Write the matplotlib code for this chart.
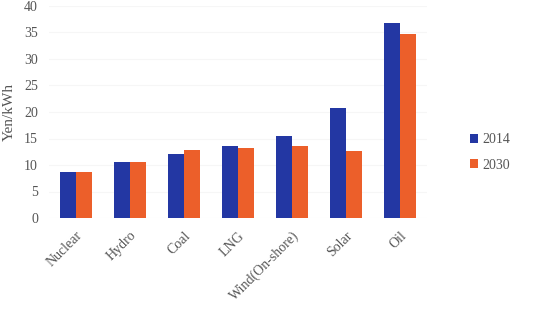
import matplotlib
matplotlib.use('Agg')
from matplotlib import pyplot as plt
import numpy as np

# Данные
sources = ['Nuclear', 'Hydro', 'Coal', 'LNG', 'Wind(On-shore)', 'Solar', 'Oil']
cost_2014 = [8.7, 10.6, 12.1, 13.6, 15.5, 20.7, 36.8]
cost_2030 = [8.7, 10.6, 12.8, 13.3, 13.6, 12.7, 34.8]
yticks = [0, 5, 10, 15, 20, 25, 30, 35, 40]

plt.rcParams['font.family'] = ['Liberation Serif', 'DejaVu Serif']
txt = '#555555'

fig = plt.figure(figsize=(5.46, 3.12), dpi=100)
ax = fig.add_axes([49/546, 1-218/312, 378/546, 212/312])

x = np.arange(len(sources))
w = 0.29
ax.bar(x - w/2, cost_2014, w, color='#2337a3', label='2014', zorder=3)
ax.bar(x + w/2, cost_2030, w, color='#ec5f2a', label='2030', zorder=3)

ax.set_xlim(-0.5, len(sources) - 0.5)
ax.set_ylim(0, 40)
ax.set_yticks(yticks)
ax.yaxis.grid(True, color='#f6f6f6', linewidth=0.8, zorder=0)
ax.set_xticks(x)
ax.set_xticklabels(sources, rotation=45, ha='right', rotation_mode='anchor',
                   color=txt, fontsize=10)
ax.tick_params(axis='x', length=0, pad=8)
ax.tick_params(axis='y', length=0, pad=8, labelcolor=txt, labelsize=10)
for s in ax.spines.values():
    s.set_visible(False)
ax.set_ylabel('Yen/kWh', color=txt, fontsize=11, labelpad=6)

ax.legend(loc='center left', bbox_to_anchor=(1.08, 0.31), frameon=False,
          handlelength=0.6, handleheight=0.6, handletextpad=0.3,
          labelspacing=0.9, prop={'size': 10}, labelcolor=txt)

plt.savefig('out.png')
